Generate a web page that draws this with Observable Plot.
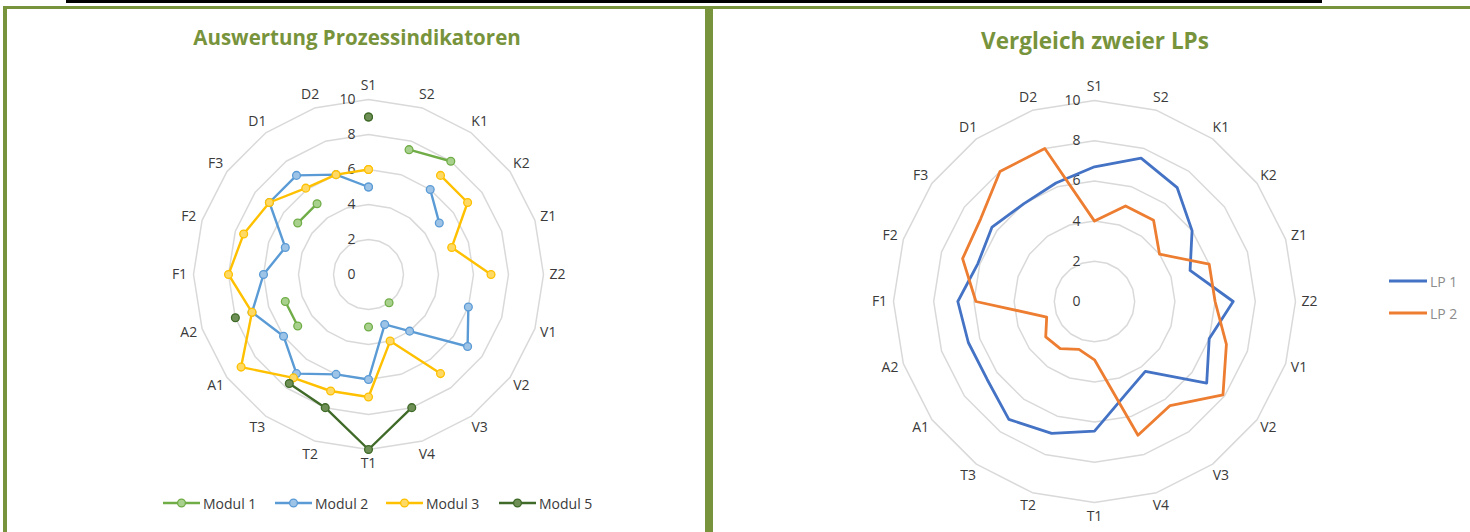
<!DOCTYPE html>
<html><head><meta charset="utf-8">
<script src="https://cdn.jsdelivr.net/npm/d3@7"></script>
<script src="https://cdn.jsdelivr.net/npm/@observablehq/plot@0.6"></script>
<style>
html,body{margin:0;padding:0;background:#fff;}
body{width:1470px;height:532px;overflow:hidden;position:relative;font-family:"Open Sans",sans-serif;}
.abs{position:absolute;}
.title{position:absolute;color:#77933C;font-weight:700;white-space:nowrap;transform:translate(-50%,-50%);}
.leg{position:absolute;font-size:14px;color:#3a3a3a;white-space:nowrap;}
.leg .item{position:absolute;top:0;display:flex;align-items:center;}
.leg svg{margin-right:3px;}
.leg2{position:absolute;font-size:14px;color:#8c8c8c;white-space:nowrap;}
.leg2 .item{display:flex;align-items:center;height:32px;}
.leg2 svg{margin-right:3px;}
</style></head><body>
<div class="abs" style="left:66px;top:0;width:1256px;height:3px;background:#000"></div>
<div class="abs" style="left:3px;top:6px;width:1467px;height:3px;background:#77933C"></div>
<div class="abs" style="left:3px;top:6px;width:4px;height:526px;background:#77933C"></div>
<div class="abs" style="left:705px;top:6px;width:8px;height:526px;background:#77933C"></div>
<div class="title" style="left:357px;top:37px;font-size:20.5px">Auswertung Prozessindikatoren</div>
<div class="title" style="left:1095px;top:40px;font-size:22.5px">Vergleich zweier LPs</div>
<div id="left" class="abs"></div>
<div id="right" class="abs"></div>
<div id="leg1" class="leg" style="left:0;top:493px"></div>
<div id="leg2" class="leg2" style="left:1389px;top:265px"></div>
<script>
// ---- data ----
const categories = ["S1","S2","K1","K2","Z1","Z2","V1","V2","V3","V4","T1","T2","T3","A1","A2","F1","F2","F3","D1","D2"];
const ticks = [0, 2, 4, 6, 8, 10];
const rings = [2, 4, 6, 8, 10];
const modulNames = ["Modul 1", "Modul 2", "Modul 3", "Modul 5"];
const modul1 = [null, 7.5, 8, null, null, null, null, null, 2, null, 3, null, null, 5, 5, null, null, 5, 5, null];
const modul2 = [5, null, 6, 5, null, null, 6, 7, 4, 3, 6, 6, 7, 6, 7, 6, 5, 7, 7, 6];
const modul3 = [6, null, 7, 7, 5, 7, null, null, 7, 4, 7, 7, 7.3, 9, 7, 8, 7.5, 7, 6.1, 6];
const modul5 = [9, null, null, null, null, null, null, null, null, 8, 10, 8, 7.7, null, 8, null, null, null, null, null];
const lpNames = ["LP 1", "LP 2"];
const lp1 = [6.7, 7.5, 7, 6, 5, 6.9, 6, 6.9, 4.3, 4.9, 6.45, 6.9, 7.25, 6.6, 6.6, 6.8, 6.1, 6.3, 6, 6.2];
const lp2 = [4, 5, 5, 4, 6, 6, 6.9, 7.9, 6.4, 7, 2.9, 2.5, 2.9, 3, 2.5, 5.9, 6.9, 7, 8, 8];

const modulColors = ["#70AD47", "#5B9BD5", "#FFC000", "#3F6A28"];
const modulFills = ["#A9D18E", "#9DC3E6", "#FFD966", "#6E8F55"];
const lpColors = ["#4472C4", "#ED7D31"];
const legendX = [163, 275, 386, 499];

// ---- helpers ----
const N = categories.length;
const ang = i => 2 * Math.PI * i / N;
function seriesRows(name, vals) {
  const rows = vals.map((v, i) => v == null
    ? {series: name, x: NaN, y: NaN}
    : {series: name, x: v * Math.sin(ang(i)), y: v * Math.cos(ang(i))});
  rows.push({...rows[0]});
  return rows;
}
function ringRows() {
  const out = [];
  for (const r of rings) for (let i = 0; i <= N; i++) out.push({ring: r, x: r * Math.sin(ang(i)), y: r * Math.cos(ang(i))});
  return out;
}

function radar({width, height, k, series, colors, fills, markers, lw, tickDx}) {
  const xd = width / 2 / k, yd = height / 2 / k;
  const labR = 10 + 14 / k;
  const marks = [
    Plot.line(ringRows(), {x: "x", y: "y", z: "ring", stroke: "#D9D9D9", strokeWidth: 1.5}),
    Plot.text(ticks, {x: 0, y: d => d, text: d => String(d), textAnchor: "end", dx: tickDx, fontSize: 14, fill: "#3a3a3a"}),
    Plot.text(categories, {x: (d, i) => labR * Math.sin(ang(i)), y: (d, i) => labR * Math.cos(ang(i)), text: d => d, fontSize: 14, fill: "#3a3a3a"})
  ];
  series.forEach((s, j) => {
    const rows = seriesRows(s.name, s.values);
    marks.push(Plot.line(rows, {x: "x", y: "y", stroke: colors[j], strokeWidth: lw}));
    if (markers) marks.push(Plot.dot(rows, {x: "x", y: "y", r: 3.9, fill: fills[j], stroke: colors[j], strokeWidth: 1.3}));
  });
  return Plot.plot({
    width, height, margin: 0,
    x: {domain: [-xd, xd], axis: null},
    y: {domain: [-yd, yd], axis: null},
    style: {fontFamily: "'Open Sans', sans-serif", overflow: "visible", background: "transparent"},
    marks
  });
}

// left chart: center (368,274), 17.5 px per unit
const W1 = 460, H1 = 448;
const left = document.getElementById("left");
left.style.left = (368 - W1 / 2) + "px"; left.style.top = (274 - H1 / 2) + "px";
left.appendChild(radar({
  width: W1, height: H1, k: 17.5,
  series: [modul1, modul2, modul3, modul5].map((v, j) => ({name: modulNames[j], values: v})),
  colors: modulColors, fills: modulFills, markers: true, lw: 2.4, tickDx: -13
}));

// right chart: center (1094,301), 20.1 px per unit
const W2 = 520, H2 = 500;
const right = document.getElementById("right");
right.style.left = (1094 - W2 / 2) + "px"; right.style.top = (301 - H2 / 2) + "px";
right.appendChild(radar({
  width: W2, height: H2, k: 20.1,
  series: [lp1, lp2].map((v, j) => ({name: lpNames[j], values: v})),
  colors: lpColors, fills: lpColors, markers: false, lw: 2.8, tickDx: -14
}));

// legends
const leg1 = document.getElementById("leg1");
modulNames.forEach((n, j) => {
  leg1.insertAdjacentHTML("beforeend",
    `<div class="item" style="left:${legendX[j]}px"><svg width="37" height="20"><line x1="0" x2="37" y1="10" y2="10" stroke="${modulColors[j]}" stroke-width="2.4"/><circle cx="18.5" cy="10" r="3.9" fill="${modulFills[j]}" stroke="${modulColors[j]}" stroke-width="1.3"/></svg><span>${n}</span></div>`);
});
const leg2 = document.getElementById("leg2");
lpNames.forEach((n, j) => {
  leg2.insertAdjacentHTML("beforeend",
    `<div class="item"><svg width="38" height="10"><line x1="0" x2="38" y1="5" y2="5" stroke="${lpColors[j]}" stroke-width="2.8"/></svg><span>${n}</span></div>`);
});
</script>
</body></html>
